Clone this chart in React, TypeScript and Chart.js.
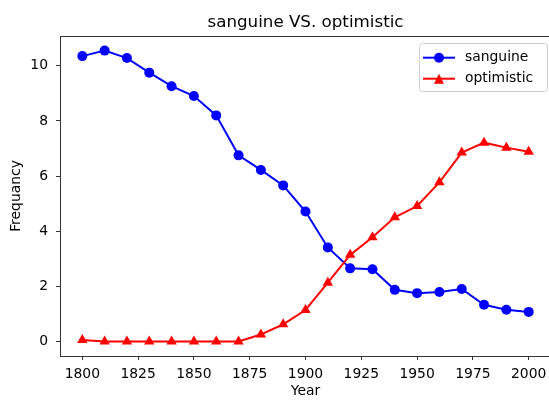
import React, { useEffect, useRef } from "react";
import { Chart, registerables } from "chart.js";

Chart.register(...registerables);

const years = [1800, 1810, 1820, 1830, 1840, 1850, 1860, 1870, 1880, 1890, 1900, 1910, 1920, 1930, 1940, 1950, 1960, 1970, 1980, 1990, 2000];
const sanguine = [10.35, 10.55, 10.28, 9.75, 9.26, 8.9, 8.2, 6.75, 6.22, 5.66, 4.71, 3.41, 2.65, 2.62, 1.87, 1.75, 1.79, 1.9, 1.33, 1.15, 1.07];
const optimistic = [0.05, 0, 0, 0, 0, 0, 0, 0, 0.25, 0.62, 1.14, 2.13, 3.14, 3.78, 4.5, 4.91, 5.77, 6.85, 7.21, 7.03, 6.88];
const xTicks = [1800, 1825, 1850, 1875, 1900, 1925, 1950, 1975, 2000];
const yTicks = [0, 2, 4, 6, 8, 10];
const titleText = "sanguine VS. optimistic";
const xTitle = "Year";
const yTitle = "Frequancy";
const seriesNames = ["sanguine", "optimistic"];

const FONT = "DejaVu Sans";

const framePlugin = {
  id: "frame",
  afterDraw(chart: any) {
    const { ctx, chartArea } = chart;
    ctx.save();
    ctx.strokeStyle = "#333";
    ctx.lineWidth = 1;
    const top = Math.round(chartArea.top) + 0.5;
    ctx.beginPath();
    ctx.moveTo(chartArea.left, top);
    ctx.lineTo(chartArea.right, top);
    ctx.lineTo(chartArea.right, chartArea.bottom);
    ctx.stroke();
    ctx.fillStyle = "#000";
    ctx.font = `16.7px "${FONT}"`;
    ctx.textAlign = "center";
    ctx.textBaseline = "alphabetic";
    ctx.fillText(titleText, (chartArea.left + chartArea.right) / 2, 27);
    ctx.restore();
  },
};

const legendPlugin = {
  id: "customLegend",
  afterDraw(chart: any) {
    const { ctx } = chart;
    const x0 = 419.5, y0 = 43.5, w = 128, h = 48, r = 3;
    ctx.save();
    ctx.beginPath();
    ctx.moveTo(x0 + r, y0);
    ctx.lineTo(x0 + w - r, y0);
    ctx.quadraticCurveTo(x0 + w, y0, x0 + w, y0 + r);
    ctx.lineTo(x0 + w, y0 + h - r);
    ctx.quadraticCurveTo(x0 + w, y0 + h, x0 + w - r, y0 + h);
    ctx.lineTo(x0 + r, y0 + h);
    ctx.quadraticCurveTo(x0, y0 + h, x0, y0 + h - r);
    ctx.lineTo(x0, y0 + r);
    ctx.quadraticCurveTo(x0, y0, x0 + r, y0);
    ctx.closePath();
    ctx.fillStyle = "rgba(255,255,255,0.8)";
    ctx.fill();
    ctx.strokeStyle = "#d0d0d0";
    ctx.lineWidth = 1;
    ctx.stroke();

    const rows = [57.7, 78.7];
    chart.data.datasets.forEach((ds: any, i: number) => {
      const y = rows[i];
      ctx.strokeStyle = ds.borderColor;
      ctx.lineWidth = 2;
      ctx.beginPath();
      ctx.moveTo(423, y);
      ctx.lineTo(455, y);
      ctx.stroke();
      ctx.fillStyle = ds.borderColor;
      const cx = 439;
      if (ds.pointStyle === "triangle") {
        const rr = 5;
        ctx.beginPath();
        ctx.moveTo(cx, y - rr);
        ctx.lineTo(cx + rr, y + rr);
        ctx.lineTo(cx - rr, y + rr);
        ctx.closePath();
        ctx.fill();
      } else {
        ctx.beginPath();
        ctx.arc(cx, y, 5, 0, Math.PI * 2);
        ctx.fill();
      }
      ctx.fillStyle = "#000";
      ctx.font = `13.9px "${FONT}"`;
      ctx.textAlign = "left";
      ctx.textBaseline = "middle";
      ctx.fillText(seriesNames[i], 465, y);
    });
    ctx.restore();
  },
};

export default function App() {
  const ref = useRef<HTMLCanvasElement | null>(null);
  useEffect(() => {
    if (!ref.current) return;
    const tickFont = { family: FONT, size: 13.9 };
    const chart = new Chart(ref.current, {
      type: "line",
      data: {
        datasets: [
          {
            label: seriesNames[0],
            data: years.map((x, i) => ({ x, y: sanguine[i] })),
            borderColor: "#0000ff",
            backgroundColor: "#0000ff",
            borderWidth: 2,
            pointStyle: "circle",
            pointRadius: 5,
            pointBorderWidth: 0,
            tension: 0,
            order: 1,
          },
          {
            label: seriesNames[1],
            data: years.map((x, i) => ({ x, y: optimistic[i] })),
            borderColor: "#ff0000",
            backgroundColor: "#ff0000",
            borderWidth: 2,
            pointStyle: "triangle",
            pointRadius: 6,
            pointBorderWidth: 0,
            tension: 0,
            order: 0,
          },
        ],
      },
      options: {
        responsive: false,
        animation: false,
        layout: { padding: { left: 0, right: 9, top: 36, bottom: 0 } },
        plugins: {
          legend: { display: false },
          title: { display: false },
          tooltip: { enabled: false },
        },
        scales: {
          x: {
            type: "linear",
            min: 1790,
            max: 2010,
            afterBuildTicks: (s: any) => {
              s.ticks = xTicks.map((v) => ({ value: v }));
            },
            afterFit: (s: any) => {
              s.height = 44;
              s.paddingLeft = 0;
              s.paddingRight = 0;
            },
            grid: { drawOnChartArea: false, drawTicks: true, tickLength: 4, color: "#333" },
            border: { color: "#333", width: 1 },
            ticks: { font: tickFont, color: "#000", padding: 6, maxRotation: 0, autoSkip: false, callback: (v: any) => String(v) },
            title: { display: true, text: xTitle, font: tickFont, color: "#000", padding: { top: 0, bottom: 0 } },
          },
          y: {
            type: "linear",
            min: -0.53,
            max: 11.08,
            afterBuildTicks: (s: any) => {
              s.ticks = yTicks.map((v) => ({ value: v }));
            },
            afterFit: (s: any) => {
              s.width = 60;
              s.paddingTop = 0;
              s.paddingBottom = 0;
            },
            grid: { drawOnChartArea: false, drawTicks: true, tickLength: 4, color: "#333" },
            border: { color: "#333", width: 1 },
            ticks: { font: tickFont, color: "#000", padding: 8, autoSkip: false, callback: (v: any) => String(v) },
            title: { display: true, text: yTitle, font: tickFont, color: "#000", padding: { top: 8, bottom: 0 } },
          },
        },
      },
      plugins: [framePlugin, legendPlugin],
    });
    return () => chart.destroy();
  }, []);
  return (
    <div style={{ position: "fixed", left: 0, top: 0, width: 549, height: 400, overflow: "hidden", background: "#fff" }}>
      <canvas ref={ref} width={560} height={400} style={{ display: "block" }} />
    </div>
  );
}
